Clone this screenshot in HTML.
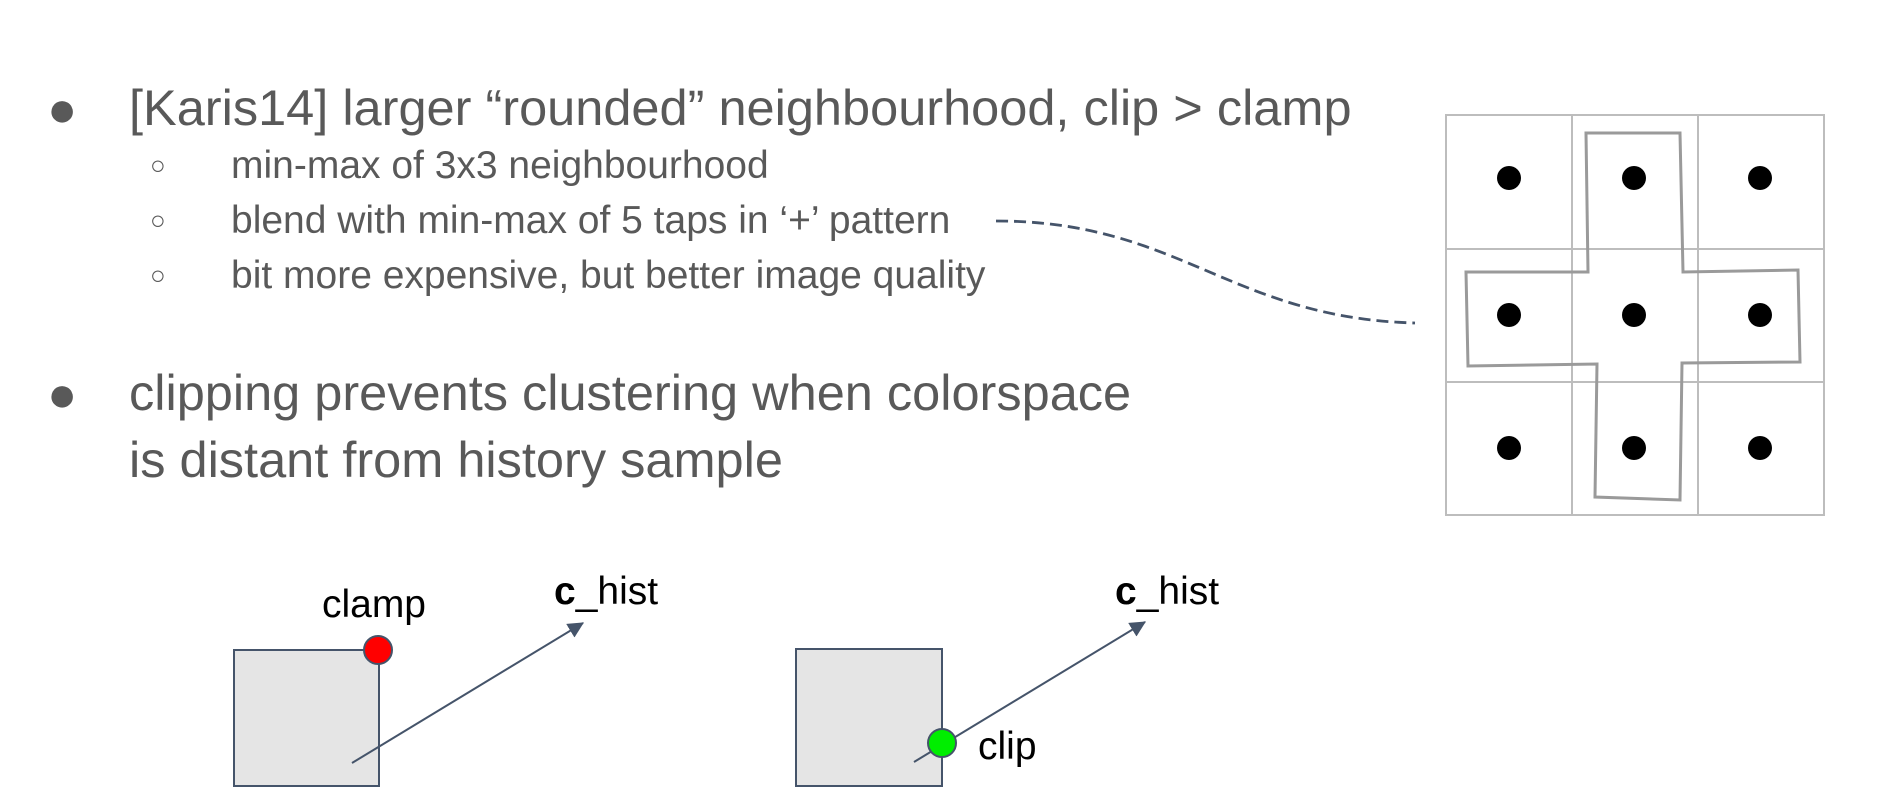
<!DOCTYPE html>
<html><head><meta charset="utf-8"><style>
html,body{margin:0;padding:0;background:#fff;}
body{width:1896px;height:812px;position:relative;overflow:hidden;font-family:"Liberation Sans",Arial,sans-serif;color:#595959;}
.t{position:absolute;white-space:nowrap;}
.big{font-size:50.5px;}
.sm{font-size:39px;}
</style></head><body>
<div class="t" style="left:47px;top:80px;font-size:50px;">●</div>
<div class="t big" style="left:129px;top:78px;">[Karis14] larger “rounded” neighbourhood, clip &gt; clamp</div>
<div class="t" style="left:150px;top:150px;font-size:26px;">○</div>
<div class="t sm" style="left:231px;top:144px;">min-max of 3x3 neighbourhood</div>
<div class="t" style="left:150px;top:205px;font-size:26px;">○</div>
<div class="t sm" style="left:231px;top:199px;">blend with min-max of 5 taps in ‘+’ pattern</div>
<div class="t" style="left:150px;top:260px;font-size:26px;">○</div>
<div class="t sm" style="left:231px;top:254px;">bit more expensive, but better image quality</div>
<div class="t" style="left:47px;top:365px;font-size:50px;">●</div>
<div class="t big" style="left:129px;top:363px;">clipping prevents clustering when colorspace</div>
<div class="t big" style="left:129px;top:430px;">is distant from history sample</div>

<svg width="1896" height="812" style="position:absolute;left:0;top:0" xmlns="http://www.w3.org/2000/svg">
<defs><marker id="a" markerWidth="16" markerHeight="16" refX="13" refY="7" orient="auto" markerUnits="userSpaceOnUse" viewBox="0 0 14 14"><path d="M0,0 L14,7 L0,14 z" fill="#45546a"/></marker></defs>
<path d="M996,221 C1180,221 1230,318 1415,323" fill="none" stroke="#45546a" stroke-width="2.8" stroke-dasharray="12,6"/>
<g stroke="#bdbdbd" stroke-width="2" fill="none">
<rect x="1446" y="115" width="378" height="400"/>
<line x1="1572" y1="115" x2="1572" y2="515"/><line x1="1698" y1="115" x2="1698" y2="515"/>
<line x1="1446" y1="249" x2="1824" y2="249"/><line x1="1446" y1="382" x2="1824" y2="382"/>
</g>
<polygon points="1586,133 1680,133 1683,272 1798,270 1800,362 1682,363 1680,500 1595,497 1597,364 1468,366 1466,272 1588,272" fill="none" stroke="#9a9a9a" stroke-width="3"/>
<g fill="#000">
<circle cx="1509" cy="178" r="12"/><circle cx="1634" cy="178" r="12"/><circle cx="1760" cy="178" r="12"/>
<circle cx="1509" cy="315" r="12"/><circle cx="1634" cy="315" r="12"/><circle cx="1760" cy="315" r="12"/>
<circle cx="1509" cy="448" r="12"/><circle cx="1634" cy="448" r="12"/><circle cx="1760" cy="448" r="12"/>
</g>
<rect x="234" y="650" width="145" height="136" fill="#e5e5e5" stroke="#45546a" stroke-width="2"/>
<line x1="352" y1="763" x2="583" y2="623" stroke="#45546a" stroke-width="2" marker-end="url(#a)"/>
<circle cx="378" cy="650" r="14" fill="#ff0000" stroke="#45546a" stroke-width="2"/>
<rect x="796" y="649" width="146" height="137" fill="#e5e5e5" stroke="#45546a" stroke-width="2"/>
<line x1="914" y1="762" x2="1145" y2="622" stroke="#45546a" stroke-width="2" marker-end="url(#a)"/>
<circle cx="942" cy="743" r="14" fill="#00ee00" stroke="#45546a" stroke-width="2"/>
<g font-family="Liberation Sans, Arial, sans-serif" font-size="39" fill="#000">
<text x="374" y="617" text-anchor="middle">clamp</text>
<text x="554" y="604"><tspan font-weight="bold">c</tspan>_hist</text>
<text x="1115" y="604"><tspan font-weight="bold">c</tspan>_hist</text>
<text x="978" y="759">clip</text>
</g>
</svg>
</body></html>
